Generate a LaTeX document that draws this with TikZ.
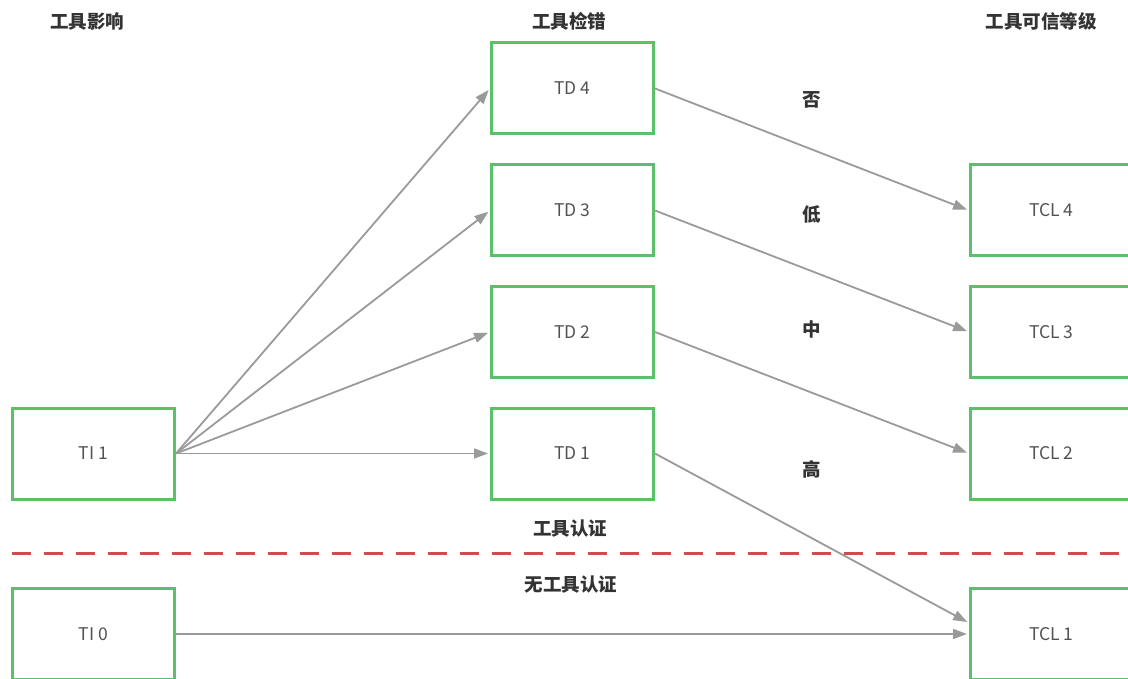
\documentclass[tikz,border=0pt]{standalone}
\usepackage{fontspec}
\setmainfont{Noto Sans CJK SC}
\usetikzlibrary{arrows.meta,calc}
\definecolor{boxgreen}{HTML}{5CC06A}
\definecolor{arrowgray}{HTML}{9A9A9A}
\definecolor{cutred}{HTML}{C94F4C}
\definecolor{textdark}{HTML}{333333}
\begin{document}
\begin{tikzpicture}[x=1pt,y=-1pt,
  levelbox/.style={draw=boxgreen,line width=3pt,minimum width=162pt,minimum height=91pt,
    inner sep=0pt,text=textdark!85,font=\fontsize{17.5}{20}\selectfont},
  heading/.style={text=textdark,font=\bfseries\fontsize{18.5}{21}\selectfont,inner sep=0pt},
  flow/.style={draw=arrowgray,line width=1.8pt,-{Triangle[length=14pt,width=10pt]},shorten >=2pt}]
  \useasboundingbox (0,0) rectangle (1128,679);

  % column headings
  \node[heading] (hti)  at (87,21)   {工具影响};
  \node[heading] (htd)  at (569,21)  {工具检错};
  \node[heading] (htcl) at (1041,21) {工具可信等级};

  % tool impact
  \node[levelbox] (ti1) at (93.5,453.5) {TI 1};
  \node[levelbox] (ti0) at (93.5,634)   {TI 0};

  % tool error detection
  \node[levelbox] (td4) at (572.5,88.5)  {TD 4};
  \node[levelbox] (td3) at (572.5,210.5) {TD 3};
  \node[levelbox] (td2) at (572.5,332)   {TD 2};
  \node[levelbox] (td1) at (572.5,453.5) {TD 1};

  % tool confidence level (boxes run past the right edge)
  \node[levelbox] (tcl4) at (1051.5,210.5) {TCL 4};
  \node[levelbox] (tcl3) at (1051.5,332)   {TCL 3};
  \node[levelbox] (tcl2) at (1051.5,453.5) {TCL 2};
  \node[levelbox] (tcl1) at (1051.5,634)   {TCL 1};

  % detection confidence labels
  \node[heading] (lno)   at (812,100) {否};
  \node[heading] (llow)  at (812,214) {低};
  \node[heading] (lmid)  at (812,329) {中};
  \node[heading] (lhigh) at (812,469) {高};

  % qualification boundary
  \coordinate (cutL) at (12,553);
  \coordinate (cutR) at (1140,553);
  \draw[cutred,line width=3pt,dash pattern=on 19pt off 13pt] (cutL) -- (cutR);
  \node[heading] (lqual)  at (570,529) {工具认证};
  \node[heading] (lnoqual) at (571,585) {无工具认证};

  % connectors
  \draw[flow] (ti1.east) -- (td4.west);
  \draw[flow] (ti1.east) -- (td3.west);
  \draw[flow] (ti1.east) -- (td2.west);
  \draw[flow] (ti1.east) -- (td1.west);
  \draw[flow] (td4.east) -- (tcl4.west);
  \draw[flow] (td3.east) -- (tcl3.west);
  \draw[flow] (td2.east) -- (tcl2.west);
  \draw[flow] (td1.east) -- ([yshift=11pt]tcl1.west);
  \draw[flow] (ti0.east) -- (tcl1.west);
\end{tikzpicture}
\end{document}
